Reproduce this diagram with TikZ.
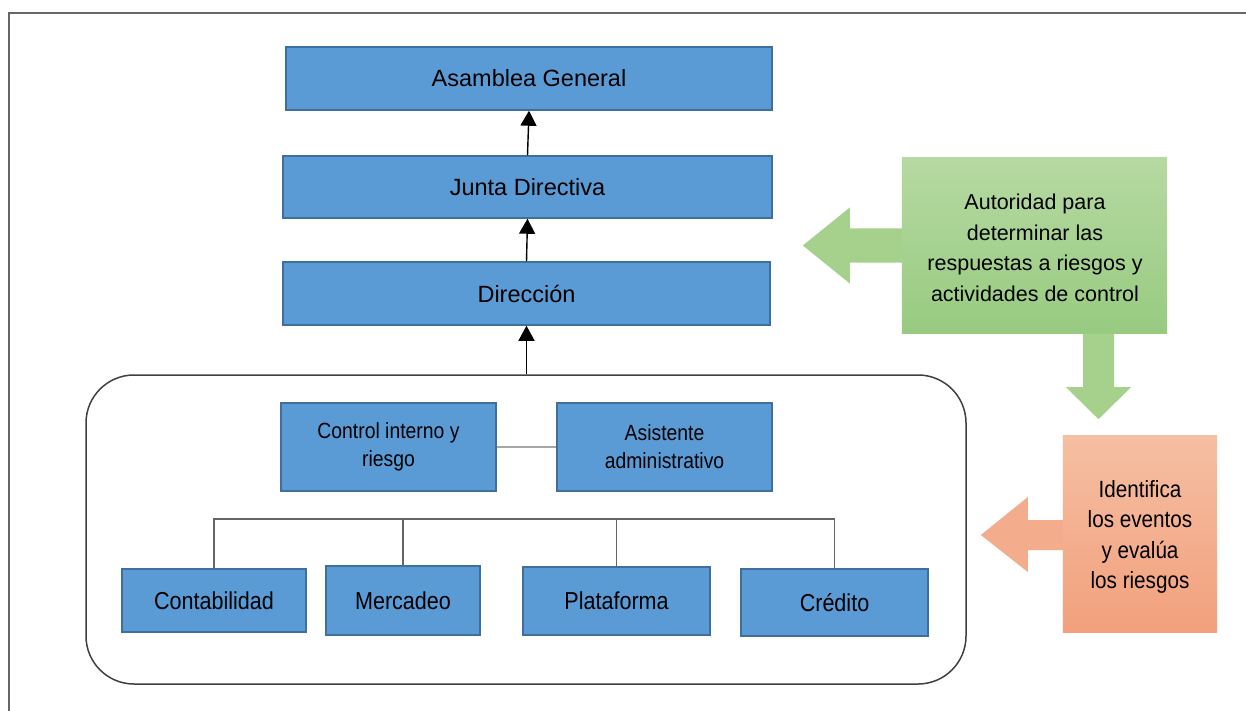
\documentclass[tikz,border=0pt]{standalone}
\usepackage{fontspec}
\setmainfont{Liberation Sans}
\newfontfamily\narrowsf[FakeStretch=0.88]{Liberation Sans}
\usetikzlibrary{arrows.meta,calc}

\definecolor{boxblue}{HTML}{5B9BD5}
\definecolor{boxedge}{HTML}{3F6F9E}
\definecolor{framegray}{HTML}{666666}
\definecolor{lightlink}{HTML}{A6A6A6}
\definecolor{greentop}{HTML}{B6D9A2}
\definecolor{greenbot}{HTML}{97CB80}
\definecolor{greenarrow}{HTML}{A6D18C}
\definecolor{orangetop}{HTML}{F5BFA2}
\definecolor{orangebot}{HTML}{F2A07D}
\definecolor{orangearrow}{HTML}{F4AD8C}

\tikzset{
  unitbox/.style={draw=boxedge, line width=1.5pt, fill=boxblue, inner sep=0pt,
    align=center, text=black},
  mainunit/.style={unitbox, font=\fontsize{23.5}{28}\selectfont},
  subunit/.style={unitbox, font=\fontsize{22}{28}\narrowsf},
  deptunit/.style={unitbox, font=\fontsize{24.5}{28}\narrowsf},
  uparrow/.style={draw=black, line width=1.4pt, -{Triangle[width=16pt,length=15pt]}},
  busline/.style={draw=framegray, line width=1.3pt},
  notebox/.style={inner sep=0pt, align=center, text=black}
}

\begin{document}
\begin{tikzpicture}[x=1pt,y=-1pt]
  \useasboundingbox (0,0) rectangle (1246,711);
  \fill[white] (0,0) rectangle (1246,711);

  % outer frame (open on the right and bottom)
  \draw[framegray, line width=2pt] (9,711) -- (9,13) -- (1246,13);

  % upper hierarchy
  \node[mainunit, minimum width=486pt, minimum height=63pt] (asamblea) at (529,78.5) {Asamblea General};
  \node[mainunit, minimum width=489pt, minimum height=62pt] (junta) at (527.5,187) {Junta Directiva};
  \node[mainunit, minimum width=487pt, minimum height=63pt] (direccion) at (526.5,293.5) {Dirección};

  % operational group
  \node[draw=black!75, line width=1.5pt, rounded corners=48pt, inner sep=0pt,
        minimum width=880pt, minimum height=309pt] (grupo) at (526,529.5) {};

  \node[subunit, minimum width=215pt, minimum height=88pt] (control) at (388.5,447) {Control interno y\\riesgo};
  \node[subunit, minimum width=215pt, minimum height=88pt] (asistente) at (664.5,447) {Asistente\\administrativo};

  \node[deptunit, minimum width=184pt, minimum height=63pt] (conta) at (214,600.5) {Contabilidad};
  \node[deptunit, minimum width=154pt, minimum height=69pt] (merc) at (403,600.5) {Mercadeo};
  \node[deptunit, minimum width=187pt, minimum height=68pt] (plat) at (616.5,601) {Plataforma};
  \node[deptunit, minimum width=187pt, minimum height=67pt] (cred) at (834.5,602.5) {Crédito};

  % reporting arrows
  \draw[uparrow] (junta.north) -- (asamblea.south);
  \draw[uparrow] (direccion.north) -- (junta.south);
  \draw[uparrow] (grupo.north -| direccion.south) -- (direccion.south);

  % staff link
  \draw[lightlink, line width=2.5pt] (control.east) -- (asistente.west);

  % department bus
  \coordinate (bus) at (0,519);
  \draw[busline] (conta.north) -- (conta.north |- bus) -- (cred.north |- bus) -- (cred.north);
  \draw[busline] (merc.north) -- (merc.north |- bus);
  \draw[busline] (plat.north) -- (plat.north |- bus);

  % green callout
  \node[notebox, minimum width=265pt, minimum height=175pt] (verde) at (1034.5,245.5) {};
  \fill[greenarrow] (verde.west) ++(0,-17) -- ++(-52,0) -- ++(0,-21) -- ++(-47,38)
        -- ++(47,38) -- ++(0,-21) -- ++(52,0) -- cycle;
  \fill[greenarrow] ($(verde.south)+(48.5,-2)$) -- ++(0,56) -- ++(-17,0) -- ++(32.5,32)
        -- ++(32.5,-32) -- ++(-17,0) -- ++(0,-56) -- cycle;
  \path[top color=greentop, bottom color=greenbot] (verde.north west) rectangle (verde.south east);
  \node[notebox, font=\fontsize{21.5}{30.5}\selectfont] (verdetxt) at (1035,248)
        {Autoridad para\\determinar las\\respuestas a riesgos y\\actividades de control};

  % orange callout
  \node[notebox, minimum width=154pt, minimum height=197pt] (naranja) at (1140,534) {};
  \fill[orangearrow] (naranja.west) ++(0,-14) -- ++(-35,0) -- ++(0,-23) -- ++(-47,38)
        -- ++(47,37) -- ++(0,-22) -- ++(35,0) -- cycle;
  \path[top color=orangetop, bottom color=orangebot] (naranja.north west) rectangle (naranja.south east);
  \node[notebox, font=\fontsize{23.5}{30.5}\narrowsf] (naranjatxt) at (1140,537)
        {Identifica\\los eventos\\y evalúa\\los riesgos};
\end{tikzpicture}
\end{document}
